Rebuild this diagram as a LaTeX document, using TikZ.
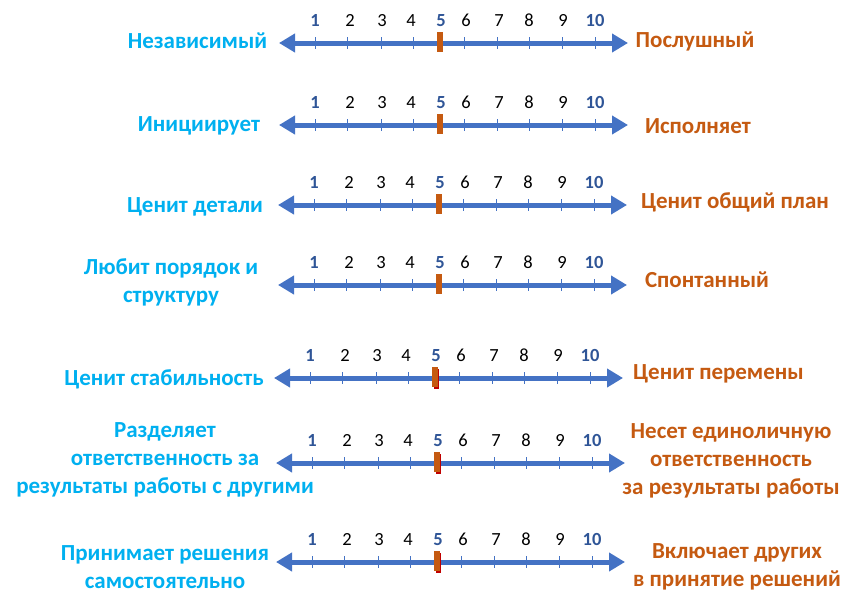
\documentclass[tikz,border=0pt]{standalone}
\usepackage{fontspec}
\setmainfont[Numbers=Lining]{Carlito}
\usetikzlibrary{arrows.meta}
\definecolor{arrowblue}{HTML}{4472C4}
\definecolor{numblue}{HTML}{2F5597}
\definecolor{leftcyan}{HTML}{00B0F0}
\definecolor{rightorange}{HTML}{C55A11}
\definecolor{markorange}{HTML}{C55A11}
\definecolor{markred}{HTML}{C00000}
\tikzset{
  scaleline/.style={draw=arrowblue, line width=5pt,
    {Triangle[width=18pt,length=16pt]}-{Triangle[width=18pt,length=16pt]}},
  tickmark/.style={draw=arrowblue, line width=1pt},
  numbold/.style={font=\fontsize{18.5}{20}\selectfont\bfseries, text=numblue, inner sep=0pt, anchor=base},
  numreg/.style={font=\fontsize{18.5}{20}\selectfont, text=black, inner sep=0pt, anchor=base},
  lefttxt/.style={font=\fontsize{23}{28}\selectfont\bfseries, text=leftcyan, align=center, inner sep=0pt},
  righttxt/.style={font=\fontsize{23}{28}\selectfont\bfseries, text=rightorange, align=center, inner sep=0pt},
}
\newcommand\scalerow[4]{%
  \coordinate (#1L) at (#2-36,#3);
  \coordinate (#1R) at (#2+313,#3);
  \draw[scaleline] (#1L) -- (#1R);
  \foreach \d in {0,32,66,98,149,182,214,247,280}{
    \draw[tickmark] (#2+\d,#3-6) -- (#2+\d,#3+6);
  }
  \ifnum#4=1
    \fill[markred] (#2+124,#3-9) rectangle (#2+129,#3+11);
  \fi
  \fill[markorange] (#2+122,#3-11) rectangle (#2+128,#3+9);
  \node[numbold] (#1n1) at (#2,#3-17) {1};
  \node[numbold] (#1n5) at (#2+126,#3-17) {5};
  \node[numbold] (#1n10) at (#2+280,#3-17) {10};
  \foreach \n/\d in {2/35,3/67,4/96,6/151,7/184,8/214,9/248}{
    \node[numreg] (#1n\n) at (#2+\d,#3-17) {\n};
  }
}
\begin{document}
\begin{tikzpicture}[x=1pt,y=-1pt]
\useasboundingbox[fill=white] (0,0) rectangle (857,608);

\scalerow{r1}{315}{43}{0}
\scalerow{r2}{315}{125}{0}
\scalerow{r3}{314}{205}{0}
\scalerow{r4}{314}{285}{0}
\scalerow{r5}{310}{378}{1}
\scalerow{r6}{312}{463}{1}
\scalerow{r7}{312}{562}{1}

\node[lefttxt] (l1) at (197.5,41) {Независимый};
\node[lefttxt] (l2) at (199,126) {Инициирует};
\node[lefttxt] (l3) at (195,207) {Ценит детали};
\node[lefttxt] (l4) at (171,282) {Любит порядок и\\структуру};
\node[lefttxt] (l5) at (164,379) {Ценит стабильность};
\node[lefttxt] (l6) at (165,460) {Разделяет\\ответственность за\\результаты работы с другими};
\node[lefttxt] (l7) at (165,567) {Принимает решения\\самостоятельно};

\node[righttxt] (g1) at (695,41) {Послушный};
\node[righttxt] (g2) at (698,126) {Исполняет};
\node[righttxt] (g3) at (735,202) {Ценит общий план};
\node[righttxt] (g4) at (707,280) {Спонтанный};
\node[righttxt] (g5) at (718.5,374) {Ценит перемены};
\node[righttxt] (g6) at (731,461) {Несет единоличную\\ответственность\\за результаты работы};
\node[righttxt] (g7) at (737,567) {Включает других\\в принятие решений};
\end{tikzpicture}
\end{document}
